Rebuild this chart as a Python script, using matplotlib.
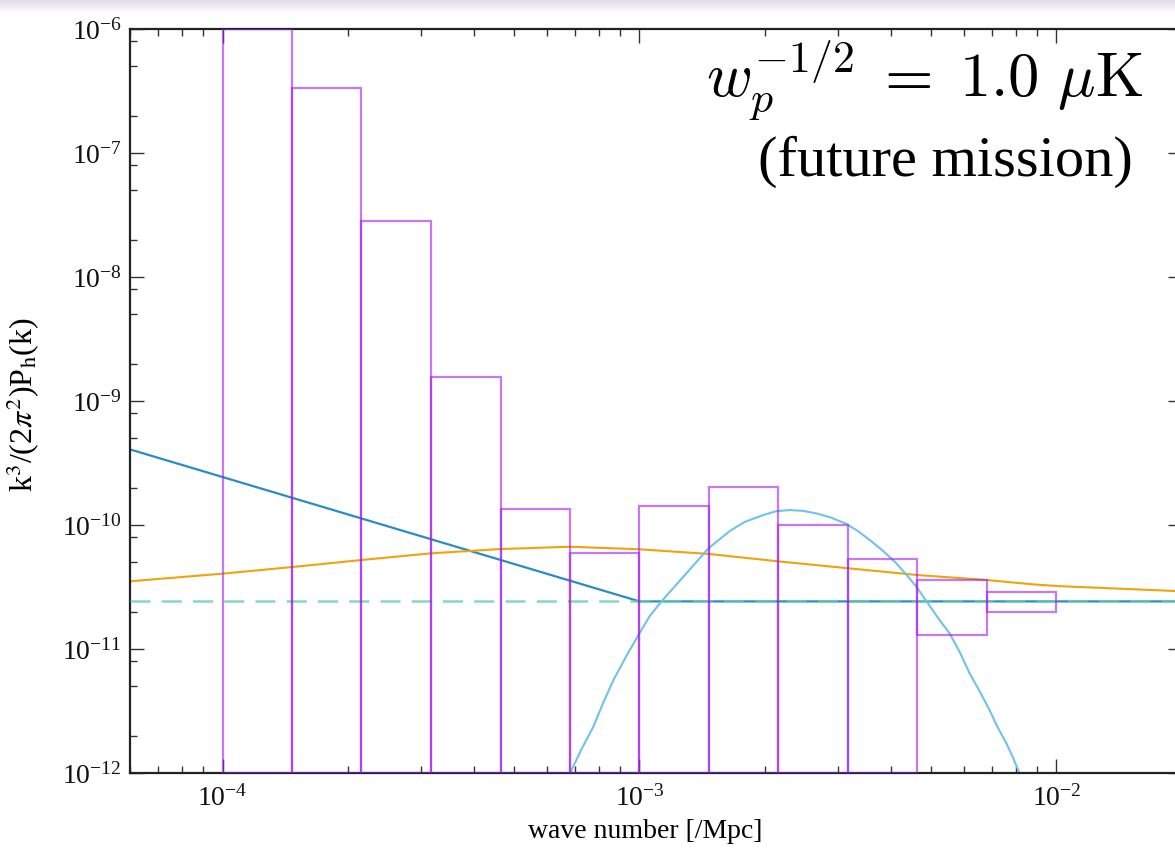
import numpy as np
import matplotlib.pyplot as plt
from matplotlib.colors import LinearSegmentedColormap
from matplotlib.patches import Rectangle
from matplotlib.ticker import LogLocator, NullFormatter

plt.rcParams['font.family'] = ['Liberation Serif', 'DejaVu Serif']
plt.rcParams['mathtext.fontset'] = 'stix'

# binned power spectrum estimates (upper / lower edge of each box, 0 = no lower bound)
bin_edges = [1.0e-4, 1.468e-4, 2.154e-4, 3.162e-4, 4.642e-4, 6.813e-4, 1.0e-3,
             1.468e-3, 2.154e-3, 3.162e-3, 4.642e-3, 6.813e-3, 1.0e-2]
bin_upper = [1.0e-6, 3.37e-7, 2.83e-8, 1.56e-9, 1.34e-10, 5.98e-11,
             1.41e-10, 2.01e-10, 1.0e-10, 5.29e-11, 3.57e-11, 2.87e-11]
bin_lower = [0, 0, 0, 0, 0, 0, 0, 0, 0, 0, 1.30e-11, 2.0e-11]

# noise curve: k^-1 below 1e-3, flat above
noise_k = [6.0e-5, 1.0e-3, 2.0e-2]
noise_p = [4.07e-10, 2.42e-11, 2.42e-11]

# flat reference level
flat_level = 2.42e-11

# broad spectrum
broad_k = [6.02e-5, 1.0e-4, 1.468e-4, 2.154e-4, 3.162e-4, 4.642e-4, 6.813e-4, 1.0e-3,
           1.468e-3, 2.154e-3, 3.162e-3, 4.642e-3, 6.813e-3, 8.61e-3, 1.0e-2, 2.0e-2]
broad_p = [3.52e-11, 4.05e-11, 4.58e-11, 5.22e-11, 5.91e-11, 6.40e-11, 6.68e-11, 6.37e-11,
           5.84e-11, 5.09e-11, 4.48e-11, 3.95e-11, 3.60e-11, 3.34e-11, 3.22e-11, 2.92e-11]

# peaked spectrum
peak_k = [6.82e-4, 7.24e-4, 7.75e-4, 8.18e-4, 8.66e-4, 9.33e-4, 1.0e-3, 1.059e-3,
          1.129e-3, 1.285e-3, 1.464e-3, 1.559e-3, 1.647e-3, 1.789e-3, 1.976e-3,
          2.122e-3, 2.294e-3, 2.464e-3, 2.657e-3, 2.875e-3, 3.135e-3, 3.338e-3,
          3.565e-3, 3.83e-3, 4.130e-3, 4.35e-3, 4.613e-3, 4.91e-3, 5.245e-3,
          5.54e-3, 5.86e-3, 6.19e-3, 6.54e-3, 6.91e-3, 7.22e-3, 7.58e-3, 7.85e-3, 8.15e-3]
peak_p = [1.0e-12, 1.53e-12, 2.36e-12, 3.67e-12, 5.62e-12, 8.95e-12, 1.34e-11, 1.85e-11,
          2.42e-11, 3.95e-11, 6.49e-11, 7.71e-11, 8.95e-11, 1.06e-10, 1.20e-10,
          1.29e-10, 1.32e-10, 1.30e-10, 1.24e-10, 1.15e-10, 1.02e-10, 8.95e-11,
          7.57e-11, 6.23e-11, 4.91e-11, 4.03e-11, 3.18e-11, 2.35e-11, 1.71e-11,
          1.34e-11, 9.46e-12, 6.37e-12, 4.58e-12, 3.22e-12, 2.35e-12, 1.74e-12, 1.35e-12, 1.0e-12]

xlim = (6.0e-5, 2.0e-2)
ylim = (1e-12, 1e-6)
x_major = [1e-4, 1e-3, 1e-2]
y_major = [1e-12, 1e-11, 1e-10, 1e-9, 1e-8, 1e-7, 1e-6]

fig = plt.figure(figsize=(11.75, 8.49), dpi=100)

# faint band along the top
band = fig.add_axes([0, 1 - 14 / 849, 1, 14 / 849])
grad = np.linspace(0, 1, 20).reshape(-1, 1)
band.imshow(grad, aspect='auto', extent=[0, 1, 0, 1],
            cmap=LinearSegmentedColormap.from_list('band', ['#e3dcec', '#ffffff']))
band.set_axis_off()

ax = fig.add_axes([130 / 1175, 76 / 849, 1052 / 1175, 744 / 849])
ax.set_xscale('log')
ax.set_yscale('log')
ax.set_xlim(*xlim)
ax.set_ylim(*ylim)

for i in range(len(bin_upper)):
    lo = bin_lower[i] if bin_lower[i] > 0 else ylim[0]
    ax.add_patch(Rectangle((bin_edges[i], lo), bin_edges[i + 1] - bin_edges[i],
                           bin_upper[i] - lo, fill=False, edgecolor='#a020f0',
                           alpha=0.6, lw=1.6, zorder=4))

ax.plot(noise_k, noise_p, color='#2a8bc6', lw=1.6, zorder=2)
ax.plot(xlim, [flat_level, flat_level], color='#66cfae', lw=1.8, alpha=0.8,
        dashes=(8, 4.5), zorder=3)
ax.plot(broad_k, broad_p, color='#f0a30a', lw=1.5, zorder=2)
ax.plot(peak_k, peak_p, color='#6ec3ee', lw=1.5, zorder=2)

ax.set_xticks(x_major)
ax.set_yticks(y_major)
ax.xaxis.set_minor_locator(LogLocator(base=10, subs=np.arange(2, 10), numticks=20))
ax.yaxis.set_minor_locator(LogLocator(base=10, subs=[2, 5, 8], numticks=20))
ax.xaxis.set_minor_formatter(NullFormatter())
ax.yaxis.set_minor_formatter(NullFormatter())
ax.tick_params(which='both', direction='in', top=True, right=True, colors='#333333',
               labelcolor='#111111', labelsize=20)
ax.tick_params(which='major', length=10, width=1.0)
ax.tick_params(which='minor', length=5, width=1.0)
ax.tick_params(axis='x', pad=9)
ax.tick_params(axis='y', pad=6)
for s in ax.spines.values():
    s.set_color('#222222')
    s.set_linewidth(1.6)

ax.set_xlabel('wave number [/Mpc]', fontsize=20)
ax.set_ylabel(r'k$^3$/(2$\pi^2$)P$_\mathrm{h}$(k)', fontsize=23)
ax.xaxis.set_label_coords((645 - 130) / 1052, -0.062)
ax.yaxis.set_label_coords(-(130 - 42) / 1052, (849 - 76 - 405) / 744)

ax.text(1143 / 1175, 1 - 80 / 849, r'$w_p^{-1/2}\;=\;1.0\ \mu\mathrm{K}$',
        transform=fig.transFigure, ha='right', va='center', fontsize=45,
        math_fontfamily='cm')
ax.text(1133 / 1175, 1 - 162 / 849, '(future mission)', transform=fig.transFigure,
        ha='right', va='center', fontsize=42)

fig.savefig('out.png', dpi=100)
